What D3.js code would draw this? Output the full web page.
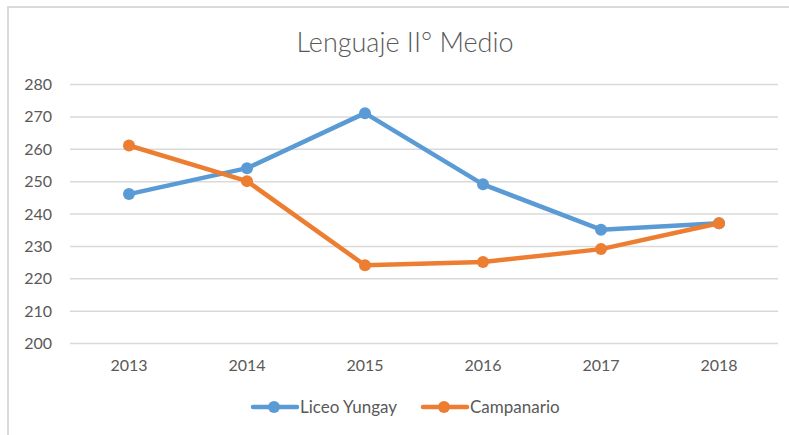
<!DOCTYPE html>
<html>
<head>
<meta charset="utf-8">
<script src="https://cdn.jsdelivr.net/npm/d3@7"></script>
<style>
  html, body { margin: 0; padding: 0; background: #fff; }
  text { font-family: Lato, "Open Sans", sans-serif; fill: #595959; }
</style>
</head>
<body>
<div id="chart"></div>
<script>
const years = ['2013', '2014', '2015', '2016', '2017', '2018'];
const liceoYungay = [246, 254, 271, 249, 235, 237];
const campanario = [261, 250, 224, 225, 229, 237];
const yTicks = [200, 210, 220, 230, 240, 250, 260, 270, 280];
const seriesNames = ['Liceo Yungay', 'Campanario'];
const seriesColors = ['#5B9BD5', '#ED7D31'];

const width = 789;
const height = 435;
const plotLeft = 70, plotRight = 778, plotTop = 84, plotBottom = 343;

const svg = d3.select('#chart')
    .append('svg')
    .attr('width', width)
    .attr('height', height);

// chart frame (only top and left edges are visible)
svg.append('path')
    .attr('d', 'M8,435 L8,7 L789,7')
    .attr('fill', 'none')
    .attr('stroke', '#d9d9d9')
    .attr('stroke-width', 2);

svg.append('text')
    .attr('x', 405)
    .attr('y', 52)
    .attr('text-anchor', 'middle')
    .style('font-size', '27px')
    .style('font-weight', 300)
    .text('Lenguaje II° Medio');

const x = d3.scaleBand().domain(years).range([plotLeft, plotRight]);
const y = d3.scaleLinear().domain([200, 280]).range([plotBottom, plotTop]);
const cx = d => x(d) + x.bandwidth() / 2;

const yAxis = d3.axisLeft(y).tickValues(yTicks).tickSize(-(plotRight - plotLeft)).tickPadding(18);
const gy = svg.append('g').attr('transform', 'translate(' + plotLeft + ',0)').call(yAxis);
gy.select('.domain').remove();
gy.selectAll('line').attr('stroke', '#d9d9d9').attr('stroke-width', 1.5);
gy.selectAll('text').style('font-size', '16px').attr('dy', '0.35em');

const xAxis = d3.axisBottom(x).tickSize(0).tickPadding(17);
const gx = svg.append('g').attr('transform', 'translate(0,' + plotBottom + ')').call(xAxis);
gx.select('.domain').remove();
gx.selectAll('text').style('font-size', '16px');

const series = [liceoYungay, campanario];
const line = d3.line().x((d, i) => cx(years[i])).y(d => y(d));

series.forEach(function(vals, s) {
    svg.append('path')
        .datum(vals)
        .attr('d', line)
        .attr('fill', 'none')
        .attr('stroke', seriesColors[s])
        .attr('stroke-width', 4.5)
        .attr('stroke-linejoin', 'round');
    svg.selectAll('circle.s' + s).data(vals).enter()
        .append('circle')
        .attr('class', 's' + s)
        .attr('cx', (d, i) => cx(years[i]))
        .attr('cy', d => y(d))
        .attr('r', 6)
        .attr('fill', seriesColors[s]);
});

// legend
const legendX = [253, 423];
const legendY = 407;
seriesNames.forEach(function(name, s) {
    const g = svg.append('g').attr('transform', 'translate(' + legendX[s] + ',' + legendY + ')');
    g.append('line')
        .attr('x1', 0).attr('x2', 44)
        .attr('stroke', seriesColors[s])
        .attr('stroke-width', 4.5)
        .attr('stroke-linecap', 'round');
    g.append('circle').attr('cx', 21).attr('r', 6).attr('fill', seriesColors[s]);
    g.append('text')
        .attr('x', 47)
        .attr('dy', '0.35em')
        .style('font-size', '17px')
        .text(name);
});
</script>
</body>
</html>
